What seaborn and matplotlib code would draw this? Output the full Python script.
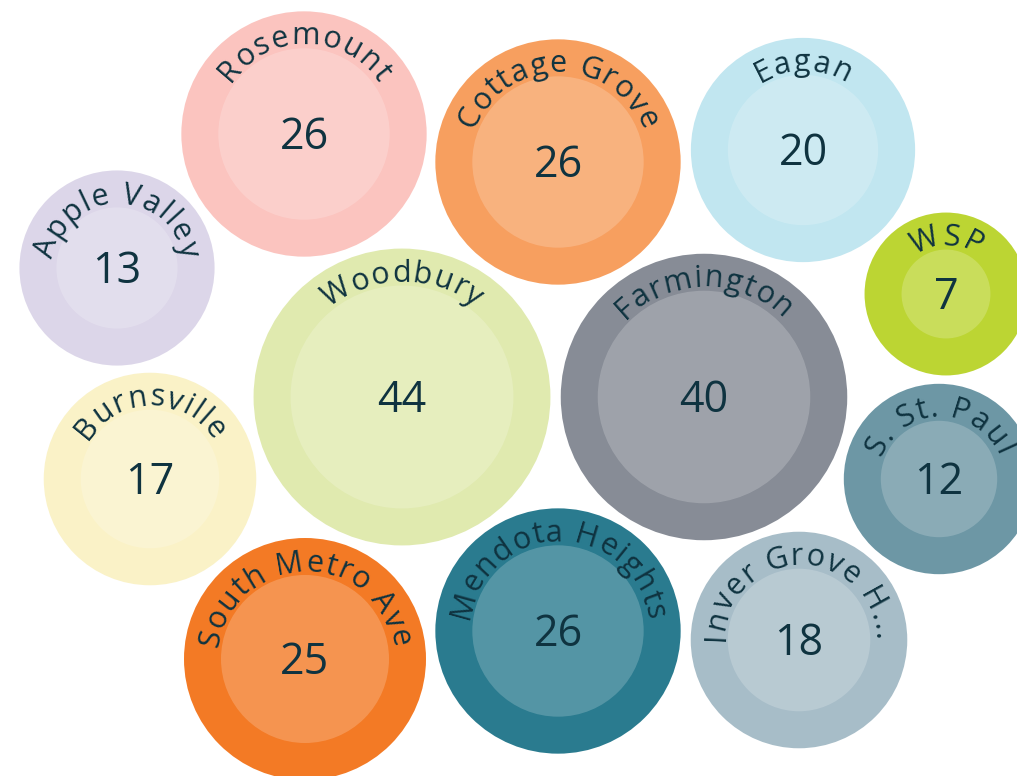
import numpy as np
import pandas as pd
import matplotlib
matplotlib.use("Agg")
import matplotlib.pyplot as plt
import seaborn as sns
from matplotlib.font_manager import FontProperties, findfont, get_font

# data
cities = ["Rosemount", "Cottage Grove", "Eagan", "Apple Valley", "WSP",
          "Woodbury", "Farmington", "Burnsville", "S. St. Paul",
          "South Metro Ave", "Mendota Heights", "Inver Grove H..."]
counts = [26, 26, 20, 13, 7, 44, 40, 17, 12, 25, 26, 18]
colors = ["#FBC4BF", "#F79F5F", "#C1E6F0", "#DCD6E9", "#BCD533", "#E0EAAF",
          "#878C96", "#FAF2C7", "#6D97A5", "#F37A25", "#2A7B8F", "#A7BDC8"]

# packed layout (pixel centres from the bubble packing)
layout_x = [304, 558, 803, 117, 946, 402, 704, 150, 939, 305, 558, 799]
layout_y = [134, 162, 150, 268, 294, 397, 397, 479, 479, 659, 631, 640]

W, H, DPI = 1017, 776, 100
TXT = "#0F3340"
FAMILY = "Open Sans"

df = pd.DataFrame({"city": cities, "count": counts,
                   "x": layout_x, "y": layout_y})
df["r_in"] = 16.8 * np.sqrt(df["count"])
df["r_out"] = df["r_in"] + 37


def area(r_px):
    # scatter size is marker area in pt^2
    return (2 * r_px * 72 / DPI) ** 2


sns.set_theme(style="white")
plt.rcParams["font.family"] = [FAMILY, "DejaVu Sans"]

fig = plt.figure(figsize=(W / DPI, H / DPI), dpi=DPI)
ax = fig.add_axes([0, 0, 1, 1])

sns.scatterplot(data=df, x="x", y="y", hue="city",
                palette=dict(zip(cities, colors)),
                size="city", sizes=dict(zip(df["city"], area(df["r_out"]))),
                linewidth=0, legend=False, ax=ax)
sns.scatterplot(data=df, x="x", y="y", color="white", alpha=0.2,
                size="city", sizes=dict(zip(df["city"], area(df["r_in"]))),
                linewidth=0, legend=False, ax=ax)

ax.set_xlim(0, W)
ax.set_ylim(H, 0)
ax.axis("off")

# curved labels
label_pt = 22
spacing = 1.2
fp = FontProperties(family=FAMILY, size=label_pt)
font = get_font(findfont(fp))
font.set_size(label_pt, DPI)


def advance(ch):
    g = font.load_char(ord(ch))
    return g.linearHoriAdvance / 65536


for _, row in df.iterrows():
    text = row["city"]
    R = row["r_in"] + 4
    adv = [advance(c) for c in text]
    total = sum(adv) + spacing * (len(text) - 1)
    pos = 0
    for c, a in zip(text, adv):
        mid = pos + a / 2
        theta = (mid - total / 2) / R
        px = row["x"] + R * np.sin(theta)
        py = row["y"] - R * np.cos(theta)
        ax.text(px, py, c, fontproperties=fp, color=TXT, ha="center",
                va="baseline", rotation=-np.degrees(theta),
                rotation_mode="anchor")
        pos += a + spacing

    ax.text(row["x"], row["y"] + 15, str(row["count"]), fontsize=31,
            color=TXT, ha="center", va="baseline", family=FAMILY)

fig.savefig("out.png", dpi=DPI, facecolor="white")
